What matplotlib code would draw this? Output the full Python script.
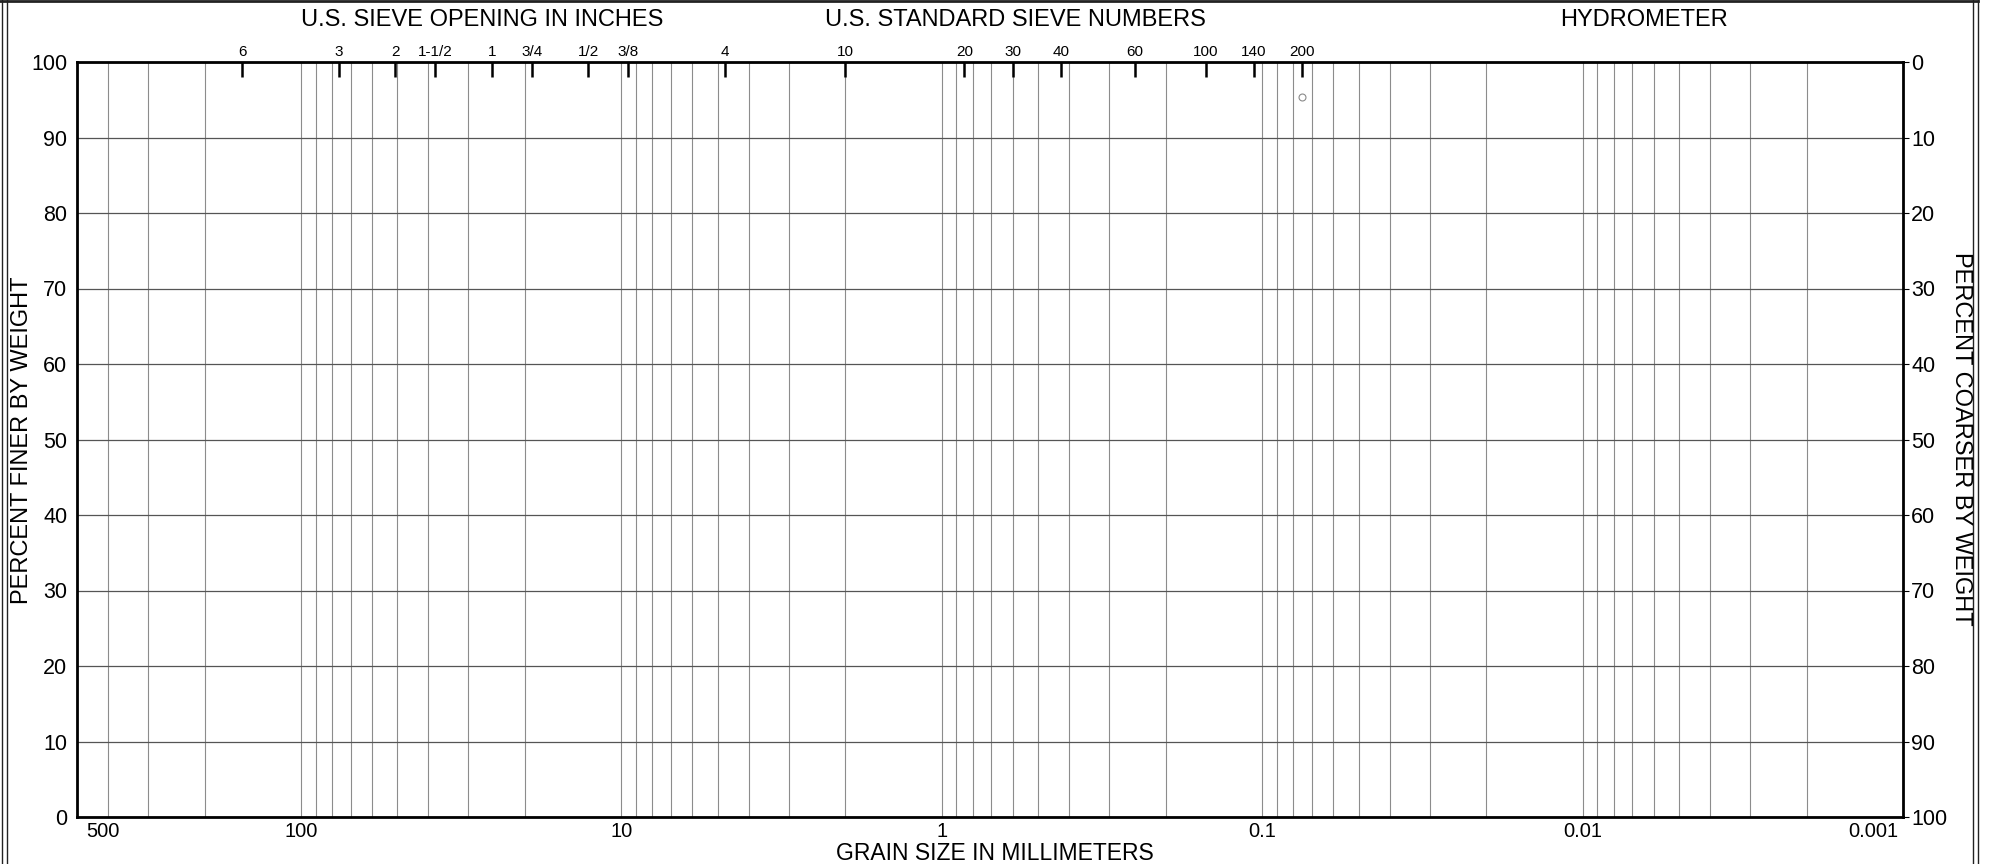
import matplotlib
matplotlib.use("Agg")
import matplotlib.pyplot as plt
from matplotlib.lines import Line2D
from matplotlib.ticker import LogLocator, NullFormatter, FixedLocator

plt.rcParams['font.family'] = ['Liberation Sans', 'DejaVu Sans']

# ---------------- data ----------------
inch_labels = ['6', '3', '2', '1-1/2', '1', '3/4', '1/2', '3/8']
inch_mm = [152.4, 76.2, 50.8, 38.1, 25.4, 19.05, 12.7, 9.525]
sieve_labels = ['4', '10', '20', '30', '40', '60', '100', '140', '200']
sieve_mm = [4.75, 2.0, 0.85, 0.6, 0.425, 0.25, 0.15, 0.106, 0.075]
grain_ticks = [500, 100, 10, 1, 0.1, 0.01, 0.001]
grain_labels = ['500', '100', '10', '1', '0.1', '0.01', '0.001']
finer_ticks = [0, 10, 20, 30, 40, 50, 60, 70, 80, 90, 100]
coarser_labels = ['100', '90', '80', '70', '60', '50', '40', '30', '20', '10', '0']
sample_size_mm = [0.075]
sample_finer = [95.4]

# ---------------- layout ----------------
W, H = 1989, 864
fig = plt.figure(figsize=(W / 100, H / 100), dpi=100)
L, R, T, B = 77, 1903, 62, 817
ax = fig.add_axes([L / W, 1 - B / H, (R - L) / W, (B - T) / H])

ax.set_xscale('log')
ax.set_xlim(grain_ticks[0], grain_ticks[-1])
ax.set_ylim(finer_ticks[0], finer_ticks[-1])

# grid
ax.xaxis.set_major_locator(FixedLocator(grain_ticks))
ax.xaxis.set_minor_locator(LogLocator(base=10, subs=[2, 3, 4, 5, 6, 7, 8, 9], numticks=50))
ax.xaxis.set_minor_formatter(NullFormatter())
ax.set_xticklabels([])
ax.tick_params(axis='x', which='both', length=0, labelbottom=False)
ax.grid(True, axis='x', which='both', color='#8c8c8c', lw=0.8)
ax.set_yticks(finer_ticks)
ax.grid(True, axis='y', which='major', color='#555555', lw=0.9)
ax.tick_params(axis='y', which='both', length=0, pad=7, labelsize=15.5)

for s in ax.spines.values():
    s.set_linewidth(2.0)
    s.set_color('black')

# bottom labels
ha_list = ['left', 'center', 'center', 'center', 'center', 'center', 'right']
dx_list = [9, 0, 0, 0, 0, 0, -5]
for v, lab, ha, dx in zip(grain_ticks, grain_labels, ha_list, dx_list):
    ax.annotate(lab, xy=(v, 0), xycoords=('data', 'axes fraction'),
                xytext=(dx, -5), textcoords='offset pixels',
                ha=ha, va='top', fontsize=14.5)

# right axis
axr = ax.twinx()
axr.set_ylim(ax.get_ylim())
axr.set_yticks(finer_ticks)
axr.set_yticklabels(coarser_labels)
axr.tick_params(axis='y', length=4, width=0.8, pad=2, labelsize=15.5, direction='out')
for s in axr.spines.values():
    s.set_visible(False)

# top sieve ticks
axt = ax.twiny()
axt.set_xscale('log')
axt.set_xlim(ax.get_xlim())
axt.xaxis.set_minor_locator(FixedLocator([]))
axt.set_xticks(inch_mm + sieve_mm)
axt.set_xticklabels(inch_labels + sieve_labels)
axt.tick_params(axis='x', which='major', direction='in', length=11, width=1.8,
                pad=2, labelsize=11, color='black')
for s in axt.spines.values():
    s.set_visible(False)

# sample point
ax.plot(sample_size_mm, sample_finer, linestyle='none', marker='o', ms=5,
        mfc='none', mec='#8a8a8a', mew=0.8, zorder=5)

# axis labels
fig.text(22 / W, 1 - 440 / H, 'PERCENT FINER BY WEIGHT', rotation=90,
         ha='center', va='center', fontsize=17)
fig.text(1961 / W, 1 - 439 / H, 'PERCENT COARSER BY WEIGHT', rotation=270,
         ha='center', va='center', fontsize=17)
fig.text(995 / W, 1 - 860 / H, 'GRAIN SIZE IN MILLIMETERS', ha='center',
         va='baseline', fontsize=16.5)

# headers
fig.text(482 / W, 1 - 20 / H, 'U.S. SIEVE OPENING IN INCHES', ha='center', va='center', fontsize=17)
fig.text(1015 / W, 1 - 20 / H, 'U.S. STANDARD SIEVE NUMBERS', ha='center', va='center', fontsize=17)
fig.text(1644 / W, 1 - 20 / H, 'HYDROMETER', ha='center', va='center', fontsize=17)

# page frame
def fl(x0, y0, x1, y1, lw):
    fig.add_artist(Line2D([x0 / W, x1 / W], [1 - y0 / H, 1 - y1 / H], color='#222222', lw=lw,
                          transform=fig.transFigure))
fl(0, 1, 1978, 1, 2.0)
fl(2, 0, 2, H, 1.0)
fl(7, 0, 7, H, 1.0)
fl(1973, 0, 1973, H, 1.0)
fl(1978, 0, 1978, H, 1.0)

fig.savefig('out.png', dpi=100)
